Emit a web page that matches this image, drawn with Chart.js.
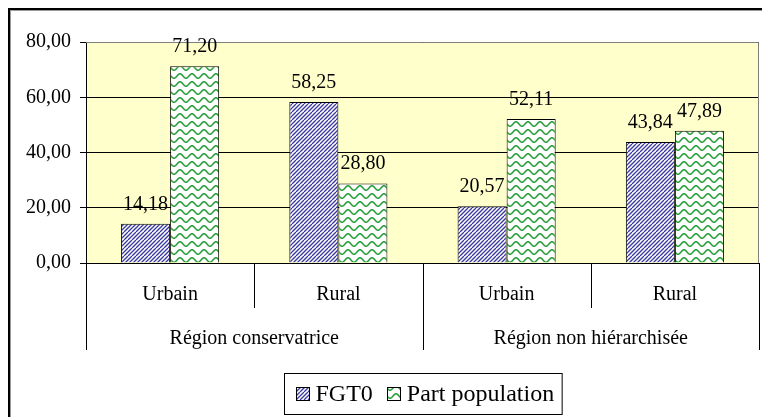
<!DOCTYPE html>
<html>
<head>
<meta charset="utf-8">
<script src="https://cdn.jsdelivr.net/npm/chart.js@4"></script>
<style>
  html, body { margin: 0; padding: 0; background: #fff; }
  canvas { display: block; }
</style>
</head>
<body>
<canvas id="myChart" width="762" height="417"></canvas>
<script>
const categories = ['Urbain', 'Rural', 'Urbain', 'Rural'];
const groups = ['Région conservatrice', 'Région non hiérarchisée'];
const fgt0 = [14.18, 58.25, 20.57, 43.84];
const partPopulation = [71.20, 28.80, 52.11, 47.89];
const yTicks = [0, 20, 40, 60, 80];

const serif = 'Liberation Serif';

function fmt(v){
    return v.toFixed(2).replace('.', ',');
}

// hatch "////" in navy
function hatchPattern(){
    const c = document.createElement('canvas');
    c.width = 8; c.height = 8;
    const g = c.getContext('2d');
    g.fillStyle = '#fff';
    g.fillRect(0, 0, 8, 8);
    g.strokeStyle = '#3a3aa0';
    g.lineWidth = 1.3;
    for (let k = -8; k <= 8; k += 4){
        g.beginPath();
        g.moveTo(k, 8);
        g.lineTo(k + 8, 0);
        g.stroke();
    }
    return g.createPattern(c, 'repeat');
}

// green waves
function wavePattern(){
    const c = document.createElement('canvas');
    c.width = 12; c.height = 8;
    const g = c.getContext('2d');
    g.fillStyle = '#fff';
    g.fillRect(0, 0, 12, 8);
    g.strokeStyle = '#28a03a';
    g.lineWidth = 1.6;
    g.beginPath();
    for (let x = -1; x <= 13; x += 0.5){
        const y = 4 - 2.2 * Math.cos(2 * Math.PI * x / 12);
        if (x === -1) g.moveTo(x, y); else g.lineTo(x, y);
    }
    g.stroke();
    return g.createPattern(c, 'repeat');
}

const decorPlugin = {
    id: 'decor',
    beforeDraw(chart){
        const {ctx, chartArea: a} = chart;
        ctx.save();
        ctx.fillStyle = '#fff';
        ctx.fillRect(0, 0, chart.width, chart.height);
        // outer frame (only top/left visible)
        ctx.fillStyle = '#000';
        ctx.fillRect(8, 8, chart.width - 8, 2);
        ctx.fillRect(8, 8, 2, chart.height - 8);
        ctx.fillStyle = '#9a9a9a';
        ctx.fillRect(10, 10, chart.width - 10, 1);
        ctx.fillRect(10, 10, 1, chart.height - 10);
        ctx.fillStyle = '#FFFFCC';
        ctx.fillRect(a.left, a.top, a.right - a.left, a.bottom - a.top);
        ctx.restore();
    },
    afterDatasetsDraw(chart){
        const {ctx, chartArea: a} = chart;
        ctx.save();
        // grey plot border top/right
        ctx.strokeStyle = '#808080';
        ctx.lineWidth = 1;
        ctx.beginPath();
        ctx.moveTo(a.left, a.top + 0.5);
        ctx.lineTo(a.right - 0.5, a.top + 0.5);
        ctx.lineTo(a.right - 0.5, a.bottom);
        ctx.stroke();

        // value labels
        ctx.fillStyle = '#000';
        ctx.font = '20px "' + serif + '"';
        ctx.textAlign = 'center';
        ctx.textBaseline = 'alphabetic';
        chart.data.datasets.forEach((ds, i) => {
            chart.getDatasetMeta(i).data.forEach((bar, j) => {
                ctx.fillText(fmt(ds.data[j]), bar.x, bar.y - 14);
            });
        });

        // category separators and group labels
        const x = chart.scales.x;
        const bottom = a.bottom;
        const edges = [a.left];
        for (let i = 0; i < categories.length - 1; i++){
            edges.push((x.getPixelForValue(i) + x.getPixelForValue(i + 1)) / 2);
        }
        edges.push(a.right);
        ctx.strokeStyle = '#000';
        edges.forEach((ex, i) => {
            const px = Math.round(ex) + 0.5;
            const isGroup = i % 2 === 0;
            ctx.beginPath();
            ctx.moveTo(px, bottom);
            ctx.lineTo(px, bottom + (isGroup ? 87 : 45));
            ctx.stroke();
        });
        ctx.font = '20px "' + serif + '"';
        ctx.textBaseline = 'middle';
        groups.forEach((gName, gi) => {
            const cx = (edges[gi * 2] + edges[gi * 2 + 2]) / 2;
            ctx.fillText(gName, cx, bottom + 76);
        });

        // legend
        const boxSize = 14;
        ctx.font = '24px "' + serif + '"';
        const items = chart.data.datasets.map(ds => ({label: ds.label, fill: ds.backgroundColor, w: ctx.measureText(ds.label).width}));
        const gapBoxText = 6, gapItem = 14, padL = 11, padR = 8;
        let total = padL + padR;
        items.forEach((it, i) => { total += boxSize + gapBoxText + it.w + (i ? gapItem : 0); });
        const lx = Math.round((a.left + a.right) / 2 - total / 2) + 0.5;
        const ly = 373.5, lh = 41;
        ctx.strokeStyle = '#000';
        ctx.strokeRect(lx, ly, total, lh);
        let cx = lx + padL;
        const midY = ly + lh / 2;
        ctx.textAlign = 'left';
        ctx.textBaseline = 'middle';
        items.forEach((it, i) => {
            if (i) cx += gapItem;
            ctx.fillStyle = it.fill;
            ctx.fillRect(Math.round(cx), Math.round(midY - boxSize / 2), boxSize, boxSize);
            ctx.strokeStyle = '#000';
            ctx.strokeRect(Math.round(cx) + 0.5, Math.round(midY - boxSize / 2) + 0.5, boxSize - 1, boxSize - 1);
            cx += boxSize + gapBoxText;
            ctx.fillStyle = '#000';
            ctx.fillText(it.label, cx, midY + 1);
            cx += it.w;
        });
        ctx.restore();
    }
};

function makeChart(){
    const ctx = document.getElementById('myChart');
    const configuration = {
        type: 'bar',
        data: {
            labels: categories,
            datasets: [{
                label: 'FGT0',
                data: fgt0,
                backgroundColor: hatchPattern(),
                borderColor: '#000',
                borderWidth: 1
            }, {
                label: 'Part population',
                data: partPopulation,
                backgroundColor: wavePattern(),
                borderColor: '#000',
                borderWidth: 1
            }]
        },
        options: {
            responsive: false,
            animation: false,
            devicePixelRatio: 1,
            categoryPercentage: 0.583,
            barPercentage: 1.0,
            layout: { padding: { top: 42, right: 3, left: 0, bottom: 0 } },
            plugins: {
                legend: { display: false },
                tooltip: { enabled: false }
            },
            scales: {
                x: {
                    afterFit: s => { s.height = 154; },
                    grid: { display: false },
                    border: { display: true, color: '#000', width: 1 },
                    ticks: {
                        color: '#000',
                        padding: 12,
                        maxRotation: 0,
                        font: { family: serif, size: 20 }
                    }
                },
                y: {
                    min: 0,
                    max: 80,
                    afterFit: s => { s.width = 86; },
                    afterBuildTicks: s => { s.ticks = yTicks.map(v => ({value: v})); },
                    grid: {
                        color: '#000',
                        lineWidth: 1,
                        drawTicks: true,
                        tickLength: 6,
                        tickColor: '#000'
                    },
                    border: { display: true, color: '#000', width: 1 },
                    ticks: {
                        color: '#000',
                        padding: 9,
                        font: { family: serif, size: 20 },
                        callback: v => fmt(v)
                    }
                }
            }
        },
        plugins: [decorPlugin]
    };
    new Chart(ctx, configuration);
}

window.onload = function(){
    makeChart();
}
</script>
</body>
</html>
